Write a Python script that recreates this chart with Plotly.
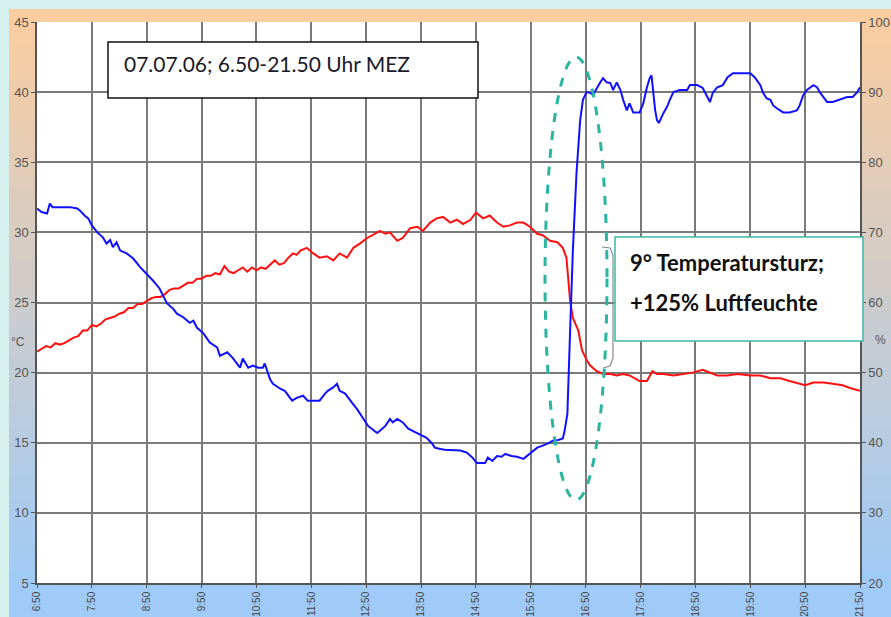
import plotly.graph_objects as go

# ---------------- data ----------------
temp_times = ["6:50","6:55","7:00","7:05","7:10","7:15","7:20","7:25","7:30","7:35","7:40","7:45","7:50","7:55",
              "8:00","8:05","8:10","8:15","8:20","8:25","8:30","8:35","8:40","8:45","8:50","8:55","9:00","9:05",
              "9:10","9:15","9:20","9:25","9:30","9:35","9:40","9:45","9:50","9:55","10:00","10:05","10:10","10:15",
              "10:20","10:25","10:30","10:35","10:40","10:45","10:50","10:55","11:00","11:05","11:10","11:15","11:20",
              "11:25","11:30","11:34","11:38","11:45","11:52","11:59","12:07","12:14","12:21","12:29","12:36","12:43",
              "12:51","12:57","13:05","13:11","13:16","13:24","13:30","13:38","13:46","13:52","14:00","14:07","14:14",
              "14:22","14:29","14:36","14:44","14:50","14:58","15:05","15:13","15:20","15:27","15:35","15:42","15:49",
              "15:57","16:03","16:11","16:19","16:25","16:29","16:31","16:33","16:36","16:40","16:42","16:46","16:51",
              "16:55","16:58","17:02","17:09","17:17","17:24","17:31","17:38","17:49","17:57","18:03","18:08","18:15",
              "18:26","18:36","18:47","18:58","19:06","19:14","19:25","19:36","19:50","20:01","20:12","20:23","20:33",
              "20:44","20:50","20:59","21:10","21:20","21:31","21:39","21:50"]
temp_values = [21.5,21.7,21.9,21.8,22.1,22.0,22.1,22.3,22.5,22.6,23.0,23.0,23.4,23.3,
               23.5,23.8,23.9,24.0,24.2,24.3,24.6,24.6,24.9,24.9,25.1,25.3,25.4,25.4,
               25.6,25.9,26.0,26.0,26.2,26.4,26.4,26.7,26.7,26.9,26.9,27.1,27.0,27.6,
               27.2,27.1,27.3,27.5,27.2,27.5,27.3,27.5,27.4,27.7,28.0,27.7,27.8,
               28.2,28.5,28.4,28.7,28.9,28.5,28.2,28.3,28.0,28.5,28.2,28.9,29.2,
               29.6,29.8,30.1,29.9,30.0,29.4,29.6,30.3,30.4,30.1,30.7,31.0,31.1,
               30.7,30.9,30.6,30.9,31.4,31.0,31.2,30.7,30.4,30.5,30.7,30.7,30.4,
               29.9,29.8,29.4,29.3,28.9,28.2,26.6,25.1,23.9,23.3,23.0,21.6,20.9,
               20.5,20.3,20.1,19.9,19.9,19.8,19.9,19.8,19.4,19.4,20.1,19.9,19.9,
               19.8,19.9,20.0,20.2,20.0,19.8,19.8,19.9,19.8,19.8,19.6,19.6,19.4,
               19.2,19.1,19.3,19.3,19.2,19.1,18.9,18.7]

hum_times = ["6:50","6:55","7:01","7:04","7:07","7:15","7:26","7:34","7:37","7:42","7:46","7:50","7:56","8:02",
             "8:06","8:10","8:13","8:17","8:21","8:28","8:35","8:43","8:50","8:57","9:04","9:08","9:12","9:19",
             "9:23","9:30","9:37","9:41","9:45","9:52","9:59","10:07","10:10","10:18","10:24","10:32","10:35",
             "10:41","10:46","10:52","10:57","10:59","11:05","11:08","11:16","11:21","11:29","11:34","11:41",
             "11:46","11:59","12:05","12:08","12:14","12:18","12:21","12:27","12:34","12:40","12:46","12:52",
             "12:57","13:02","13:05","13:11","13:16","13:19","13:24","13:30","13:36","13:41","13:46","13:51",
             "13:56","14:02","14:05","14:11","14:16","14:33","14:40","14:46","14:51","15:00","15:03","15:08",
             "15:13","15:18","15:22","15:29","15:35","15:42","15:46","15:51","15:57","16:03","16:09","16:14",
             "16:20","16:25","16:27","16:30","16:31","16:33","16:36","16:40","16:44","16:47","16:51","16:55",
             "16:58","17:02","17:06","17:09","17:13","17:17","17:20","17:24","17:28","17:31","17:35","17:38",
             "17:42","17:49","17:53","17:57","18:00","18:02","18:04","18:06","18:08","18:10","18:15","18:19",
             "18:22","18:26","18:33","18:41","18:44","18:52","18:58","19:03","19:06","19:09","19:14","19:20",
             "19:25","19:31","19:42","19:50","19:55","20:01","20:04","20:08","20:12","20:15","20:19","20:23",
             "20:26","20:33","20:41","20:44","20:48","20:52","20:59","21:03","21:06","21:10","21:14","21:20",
             "21:28","21:36","21:42","21:47","21:50"]
hum_values = [73.4,72.9,72.7,74.1,73.6,73.6,73.6,73.4,73.1,72.4,72.0,71.0,70.0,69.3,
              68.4,68.9,67.9,68.6,67.4,67.0,66.3,65.0,64.1,63.1,62.0,61.0,59.9,59.1,
              58.4,57.9,57.1,57.4,56.4,55.6,54.3,53.6,52.4,52.9,52.1,50.7,52.0,
              50.7,51.0,50.7,50.7,51.3,49.0,48.4,47.7,47.4,46.0,46.4,46.7,
              46.0,46.0,47.0,47.4,47.9,48.4,47.4,47.0,45.8,44.8,43.6,42.4,
              41.9,41.4,41.7,42.4,43.4,42.9,43.4,42.9,42.0,41.7,41.4,41.0,
              40.7,39.9,39.3,39.1,39.0,38.9,38.6,37.9,37.1,37.1,37.9,37.4,
              38.1,38.0,38.4,38.1,38.0,37.7,38.1,38.6,39.3,39.6,39.9,40.3,
              40.4,40.6,41.7,44.1,48.9,56.0,67.4,78.5,86.0,88.9,90.0,89.9,
              89.6,90.6,91.4,92.0,91.4,91.3,90.3,91.4,90.3,88.9,87.4,88.4,
              87.1,87.1,88.4,90.7,92.0,92.4,89.3,87.4,86.0,85.6,87.0,87.9,
              88.9,90.0,90.3,90.3,91.0,91.0,90.6,89.3,88.6,89.9,90.7,91.0,
              92.1,92.7,92.7,92.7,92.1,91.0,89.9,89.1,88.9,88.1,87.7,87.4,
              87.1,87.1,87.4,88.1,89.6,90.3,91.0,90.7,90.0,89.3,88.6,88.6,
              88.9,89.3,89.3,90.0,90.7]

tick_labels = ["6:50","7:50","8:50","9:50","10:50","11:50","12:50","13:50","14:50",
               "15:50","16:50","17:50","18:50","19:50","20:50","21:50"]

title_text = "07.07.06; 6.50-21.50 Uhr MEZ"
note_lines = ["9° Temperatursturz;", "+125% Luftfeuchte"]


def to_hours(t):
    h, m = t.split(":")
    return int(h) + int(m) / 60.0


# ---------------- geometry helpers (pixel -> paper) ----------------
W, H = 891, 617
L, R, T, B = 37, 31, 22, 34
PW, PH = W - L - R, H - T - B


def pxp(x):
    return (x - L) / PW


def pyp(y):
    return (H - B - y) / PH


fig = go.Figure()
fig.add_trace(go.Scatter(x=[to_hours(t) for t in temp_times], y=temp_values, mode="lines",
                         line=dict(color="#ff1010", width=2), name="Temperatur", yaxis="y"))
fig.add_trace(go.Scatter(x=[to_hours(t) for t in hum_times], y=hum_values, mode="lines",
                         line=dict(color="#1010ff", width=2), name="Luftfeuchte", yaxis="y2"))

shapes = []
# gradient background strips
top_c = (252, 205, 158)
bot_c = (160, 203, 248)
y_top, y_bot = 9, 583
n = 48
for i in range(n):
    ya = y_top + (y_bot - y_top) * i / n
    yb = y_top + (y_bot - y_top) * (i + 1) / n + 0.8
    f = (i + 0.5) / n
    c = tuple(int(round(top_c[k] + (bot_c[k] - top_c[k]) * f)) for k in range(3))
    shapes.append(dict(type="rect", xref="paper", yref="paper", layer="below",
                       x0=pxp(9), x1=pxp(W + 5), y0=pyp(yb), y1=pyp(ya),
                       fillcolor="rgb(%d,%d,%d)" % c, line=dict(width=0)))
shapes.append(dict(type="rect", xref="paper", yref="paper", layer="below",
                   x0=pxp(9), x1=pxp(W + 5), y0=pyp(H + 5), y1=pyp(583),
                   fillcolor="#a0cbf8", line=dict(width=0)))
shapes.append(dict(type="rect", xref="paper", yref="paper", layer="below",
                   x0=0, x1=1, y0=0, y1=1, fillcolor="white", line=dict(width=0)))
# title box
shapes.append(dict(type="rect", xref="paper", yref="paper",
                   x0=pxp(108), x1=pxp(478), y0=pyp(98), y1=pyp(42),
                   fillcolor="white", line=dict(color="#111111", width=1.5)))
# note box
shapes.append(dict(type="rect", xref="paper", yref="paper",
                   x0=pxp(615), x1=pxp(863), y0=pyp(341), y1=pyp(237),
                   fillcolor="white", line=dict(color="#3cb9a8", width=1.5)))
# bracket
bp = [(602, 247), (610, 248), (613, 255), (613, 358), (610, 366), (603, 368)]
path = "M " + " L ".join("%f,%f" % (pxp(a), pyp(b)) for a, b in bp)
shapes.append(dict(type="path", xref="paper", yref="paper", path=path,
                   line=dict(color="#8a8a8a", width=1.2)))
# dashed ellipse
shapes.append(dict(type="circle", xref="paper", yref="paper",
                   x0=pxp(545), x1=pxp(607), y0=pyp(500), y1=pyp(57),
                   line=dict(color="#2bb5a0", width=3, dash="dash")))

annotations = [
    dict(xref="paper", yref="paper", x=pxp(122), y=pyp(64), xanchor="left", yanchor="middle",
         text=title_text, showarrow=False, font=dict(family="Lato", size=21, color="#1a1a2a")),
    dict(xref="paper", yref="paper", x=pxp(628), y=pyp(262), xanchor="left", yanchor="middle",
         text=note_lines[0], showarrow=False,
         font=dict(family="Lato", size=22, color="#111111", weight="bold")),
    dict(xref="paper", yref="paper", x=pxp(628), y=pyp(302), xanchor="left", yanchor="middle",
         text=note_lines[1], showarrow=False,
         font=dict(family="Lato", size=22, color="#111111", weight="bold")),
    dict(xref="paper", yref="paper", x=pxp(18), y=pyp(342), xanchor="center", yanchor="middle",
         text="°C", showarrow=False, font=dict(family="Liberation Sans", size=12, color="#555555")),
    dict(xref="paper", yref="paper", x=pxp(880), y=pyp(340), xanchor="center", yanchor="middle",
         text="%", showarrow=False, font=dict(family="Liberation Sans", size=12, color="#555555")),
]

fig.update_layout(
    width=W, height=H,
    margin=dict(l=L, r=R, t=T, b=B, pad=0),
    paper_bgcolor="#d6f0ee",
    plot_bgcolor="white",
    showlegend=False,
    shapes=shapes,
    annotations=annotations,
    xaxis=dict(range=[to_hours("6:50"), to_hours("21:50")],
               tickvals=[to_hours(t) for t in tick_labels], ticktext=tick_labels,
               tickangle=-90, tickfont=dict(family="Liberation Sans", size=10, color="#444444"),
               showgrid=True, gridcolor="#7a7a7a", gridwidth=1.5,
               showline=True, linecolor="#555555", linewidth=1.5,
               ticks="outside", ticklen=3, tickcolor="#555555",
               zeroline=False, automargin=False),
    yaxis=dict(range=[5, 45], dtick=5, tick0=5,
               tickfont=dict(family="Liberation Sans", size=13, color="#555555"),
               showgrid=True, gridcolor="#7a7a7a", gridwidth=1.5,
               showline=True, linecolor="#555555", linewidth=1.5,
               ticks="outside", ticklen=4, tickcolor="#555555",
               zeroline=False, automargin=False),
    yaxis2=dict(range=[20, 100], dtick=10, tick0=20, overlaying="y", side="right",
                tickfont=dict(family="Liberation Sans", size=13, color="#555555"),
                showgrid=False, showline=True, linecolor="#555555", linewidth=1.5,
                ticks="outside", ticklen=4, tickcolor="#555555",
                zeroline=False, automargin=False),
)

fig.write_html("out.html", config={"displayModeBar": False})

# remove the browser's default page margin so the figure fills the window exactly
with open("out.html", "r", encoding="utf-8") as fh:
    html = fh.read()
html = html.replace("<body>", '<body style="margin:0;padding:0;overflow:hidden">', 1)
with open("out.html", "w", encoding="utf-8") as fh:
    fh.write(html)
